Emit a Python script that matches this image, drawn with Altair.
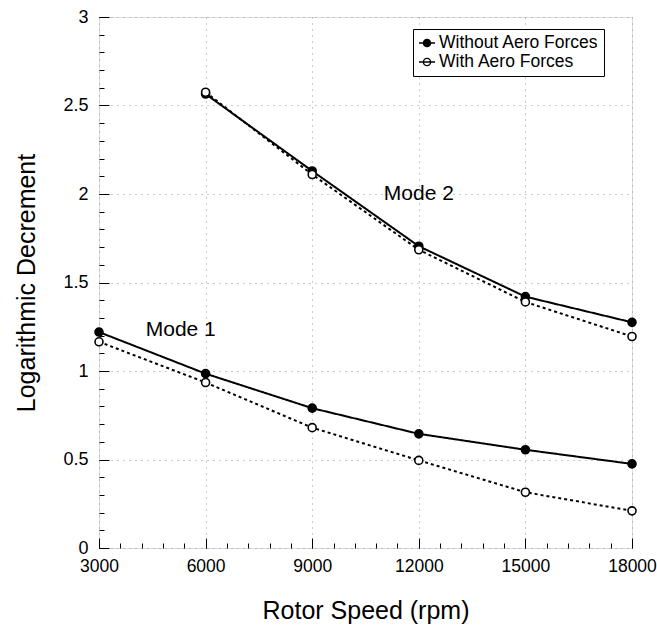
import altair as alt
import pandas as pd

# ---- data ----
rpm_mode1 = [3000, 6000, 9000, 12000, 15000, 18000]
mode1_without = [1.22, 0.985, 0.79, 0.645, 0.555, 0.475]
mode1_with = [1.165, 0.935, 0.68, 0.495, 0.315, 0.21]

rpm_mode2 = [6000, 9000, 12000, 15000, 18000]
mode2_without = [2.565, 2.13, 1.705, 1.42, 1.275]
mode2_with = [2.575, 2.11, 1.685, 1.39, 1.195]

series_names = ["Without Aero Forces", "With Aero Forces"]

mode_labels = ["Mode 1", "Mode 2"]
mode_label_x = [5300, 12000]
mode_label_y = [1.23, 2.0]

x_major_ticks = [3000, 6000, 9000, 12000, 15000, 18000]
x_minor_ticks = [3000, 3600, 4200, 4800, 5400, 6000, 6600, 7200, 7800, 8400,
                 9000, 9600, 10200, 10800, 11400, 12000, 12600, 13200, 13800,
                 14400, 15000, 15600, 16200, 16800, 17400, 18000]
y_major_ticks = [0, 0.5, 1, 1.5, 2, 2.5, 3]
y_minor_ticks = [0, 0.1, 0.2, 0.3, 0.4, 0.5, 0.6, 0.7, 0.8, 0.9, 1.0, 1.1, 1.2,
                 1.3, 1.4, 1.5, 1.6, 1.7, 1.8, 1.9, 2.0, 2.1, 2.2, 2.3, 2.4,
                 2.5, 2.6, 2.7, 2.8, 2.9, 3.0]

rows = []
for r, v in zip(rpm_mode1, mode1_without):
    rows.append({"rpm": r, "val": v, "series": series_names[0], "mode": "m1"})
for r, v in zip(rpm_mode1, mode1_with):
    rows.append({"rpm": r, "val": v, "series": series_names[1], "mode": "m1"})
for r, v in zip(rpm_mode2, mode2_without):
    rows.append({"rpm": r, "val": v, "series": series_names[0], "mode": "m2"})
for r, v in zip(rpm_mode2, mode2_with):
    rows.append({"rpm": r, "val": v, "series": series_names[1], "mode": "m2"})
df = pd.DataFrame(rows)
df["grp"] = df["mode"] + df["series"]
df["dash"] = df["series"]

labels_df = pd.DataFrame({"rpm": mode_label_x, "val": mode_label_y, "txt": mode_labels})

FONT = "Liberation Sans"

xscale = alt.Scale(domain=[3000, 18000], nice=False, zero=False)
yscale = alt.Scale(domain=[0, 3], nice=False, zero=False)

# main axes: labels, dotted grid
x_main = alt.Axis(orient="bottom", values=x_major_ticks, ticks=False, grid=True,
                  gridColor="#999999", gridDash=[1, 5], gridWidth=1,
                  domain=False, format="d", labelFont=FONT, labelFontSize=17.5,
                  labelColor="black", labelPadding=9, labelFlush=False,
                  labelOverlap=False,
                  title="Rotor Speed (rpm)", titleFont=FONT, titleFontSize=25,
                  titleFontWeight="normal", titleColor="black", titlePadding=24)
y_main = alt.Axis(orient="left", values=y_major_ticks, ticks=False, grid=True,
                  gridColor="#999999", gridDash=[1, 5], gridWidth=1,
                  domain=False, format="~g", labelFont=FONT, labelFontSize=18,
                  labelColor="black", labelPadding=11, labelFlush=False,
                  labelOverlap=False,
                  title="Logarithmic Decrement", titleFont=FONT, titleFontSize=25,
                  titleFontWeight="normal", titleColor="black", titlePadding=23)

# inward tick axes
x_major_ax = alt.Axis(orient="bottom", values=x_major_ticks, ticks=True, tickSize=10,
                      offset=-10, tickColor="black", tickWidth=1, labels=False,
                      domain=False, grid=False, title=None)
y_major_ax = alt.Axis(orient="left", values=y_major_ticks, ticks=True, tickSize=10,
                      offset=-10, tickColor="black", tickWidth=1, labels=False,
                      domain=False, grid=False, title=None)
x_minor_ax = alt.Axis(orient="bottom", values=x_minor_ticks, ticks=True, tickSize=5,
                      offset=-5, tickColor="black", tickWidth=1, labels=False,
                      domain=False, grid=False, title=None)
y_minor_ax = alt.Axis(orient="left", values=y_minor_ticks, ticks=True, tickSize=5,
                      offset=-5, tickColor="black", tickWidth=1, labels=False,
                      domain=False, grid=False, title=None)

base = alt.Chart(df)

lines = base.mark_line(color="black", strokeWidth=2).encode(
    x=alt.X("rpm:Q", scale=xscale, axis=x_main),
    y=alt.Y("val:Q", scale=yscale, axis=y_main),
    detail="grp:N",
    strokeDash=alt.StrokeDash("dash:N",
                              scale=alt.Scale(domain=series_names, range=[[1, 0], [3, 3]]),
                              legend=None),
)

legend_path = ("M-1,0L1,0"
               "M0.45,0A0.45,0.45,0,1,1,-0.45,0A0.45,0.45,0,1,1,0.45,0Z")

points = base.mark_point(filled=True, stroke="black", strokeWidth=1.6, size=64,
                         opacity=1).encode(
    x=alt.X("rpm:Q", scale=xscale, axis=x_major_ax),
    y=alt.Y("val:Q", scale=yscale, axis=y_major_ax),
    fill=alt.Fill("series:N",
                  scale=alt.Scale(domain=series_names, range=["black", "white"]),
                  legend=alt.Legend(title=None, orient="none", legendX=314, legendY=12,
                                    symbolType=legend_path, symbolSize=256,
                                    symbolStrokeColor="black", symbolStrokeWidth=1.4,
                                    labelFont=FONT, labelFontSize=17.5, labelColor="black",
                                    labelOffset=3, rowPadding=1, padding=5,
                                    strokeColor="black", fillColor="white",
                                    labelLimit=300)),
)

texts = alt.Chart(labels_df).mark_text(font=FONT, fontSize=21, color="black",
                                       align="center", baseline="middle").encode(
    x=alt.X("rpm:Q", scale=xscale, axis=x_minor_ax),
    y=alt.Y("val:Q", scale=yscale, axis=y_minor_ax),
    text="txt:N",
)

chart = alt.layer(lines, points, texts).resolve_axis(
    x="independent", y="independent"
).resolve_legend(
    fill="independent", strokeDash="independent"
).properties(
    width=533, height=531,
    autosize=alt.AutoSizeParams(type="none"),
    padding={"left": 99, "top": 17, "right": 25, "bottom": 79},
).configure_view(
    stroke="black", strokeWidth=2
).configure(background="white")

chart.save("out.html", embed_options={"renderer": "svg", "actions": False})
